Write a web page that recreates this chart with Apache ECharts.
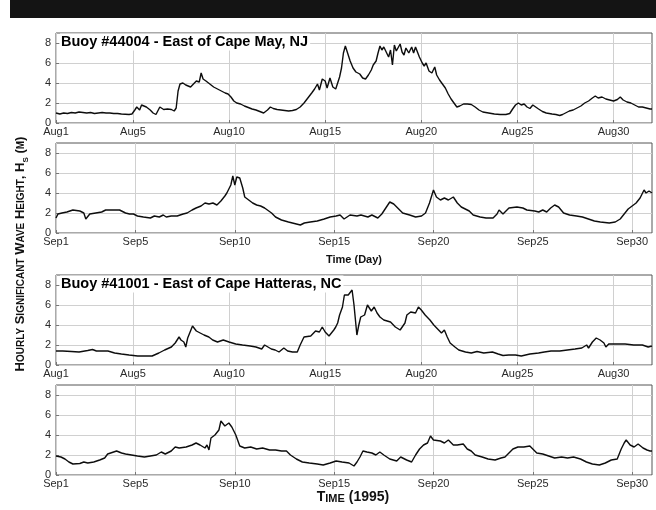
<!DOCTYPE html>
<html>
<head>
<meta charset="utf-8">
<title>Hourly significant wave height, 1995</title>
<script src="https://cdn.jsdelivr.net/npm/echarts@6/dist/echarts.min.js"></script>
<style>
  html, body { margin: 0; padding: 0; background: #fff; }
  #chart { width: 656px; height: 510px; }
</style>
</head>
<body>
<div id="chart"></div>
<script>
// Tick positions (day of month) and wave-height ticks (m)
const dayTicks = [1, 5, 10, 15, 20, 25, 30];
const hsTicks = [0, 2, 4, 6, 8];

// Significant wave height Hs (m) vs. day of month (fractional days)
// Buoy #44004 - East of Cape May, NJ - August 1995
const capeMayAug = [
  [1.0,1.0],[1.2,0.9],[1.4,1.0],[1.6,0.95],[1.8,1.05],[2.0,1.0],[2.2,1.1],[2.4,1.05],[2.6,1.0],[2.8,1.05],
  [3.0,0.95],[3.2,1.0],[3.4,1.05],[3.6,1.0],[3.8,1.0],[4.0,0.95],[4.2,0.95],[4.4,0.9],[4.6,0.88],[4.8,0.85],
  [4.95,0.9],[5.1,1.3],[5.2,1.6],[5.3,1.5],[5.35,1.3],[5.45,1.8],[5.55,1.9],[5.7,1.6],[5.9,1.3],[6.05,1.0],
  [6.2,0.85],[6.3,0.9],[6.4,1.6],[6.5,1.5],[6.6,1.35],[6.8,1.4],[7.0,1.35],[7.15,1.2],[7.25,1.5],[7.35,3.2],
  [7.45,3.9],[7.6,4.0],[7.75,3.8],[7.85,4.0],[8.0,3.6],[8.15,3.9],[8.3,4.2],[8.45,4.1],[8.55,5.0],[8.65,4.4],
  [8.8,4.2],[9.0,3.9],[9.2,3.6],[9.4,3.4],[9.6,3.2],[9.8,3.0],[9.95,2.9],[10.1,2.6],[10.25,2.2],[10.4,2.0],
  [10.6,1.9],[10.8,1.7],[11.0,1.55],[11.2,1.4],[11.4,1.3],[11.6,1.15],[11.8,1.0],[12.0,1.3],[12.15,1.6],[12.3,1.45],
  [12.5,1.35],[12.7,1.3],[12.9,1.25],[13.1,1.2],[13.3,1.25],[13.5,1.35],[13.7,1.6],[13.9,2.0],[14.1,2.5],[14.3,3.0],
  [14.45,3.4],[14.6,3.9],[14.7,3.3],[14.85,4.4],[15.0,4.2],[15.1,3.5],[15.25,4.5],[15.4,3.6],[15.55,3.4],[15.65,4.0],
  [15.75,4.6],[15.85,5.5],[15.95,7.0],[16.05,7.7],[16.15,7.1],[16.3,6.2],[16.45,5.5],[16.6,5.1],[16.8,4.9],[16.95,4.5],
  [17.1,4.4],[17.25,4.8],[17.4,5.3],[17.5,5.8],[17.65,6.2],[17.75,7.0],[17.85,7.7],[17.95,7.3],[18.05,7.6],[18.15,7.2],
  [18.3,6.6],[18.4,7.3],[18.5,5.8],[18.6,7.8],[18.7,7.2],[18.8,7.0],[18.9,7.9],[19.0,7.1],[19.1,6.8],[19.2,7.5],
  [19.35,7.0],[19.5,7.6],[19.6,7.0],[19.7,7.6],[19.8,7.1],[19.9,6.6],[20.05,6.0],[20.15,5.7],[20.25,6.0],[20.4,5.2],
  [20.55,5.0],[20.7,5.6],[20.8,4.8],[20.95,4.3],[21.1,3.9],[21.25,3.5],[21.4,2.9],[21.55,2.4],[21.7,2.0],[21.85,1.6],
  [22.0,1.7],[22.2,1.9],[22.4,1.9],[22.6,1.85],[22.8,1.6],[23.0,1.3],[23.2,1.1],[23.5,1.0],[23.8,0.9],[24.1,0.85],
  [24.4,0.85],[24.6,0.95],[24.75,1.4],[24.9,1.8],[25.05,2.0],[25.2,1.8],[25.35,1.9],[25.5,1.6],[25.65,1.45],[25.8,1.8],
  [25.95,1.6],[26.1,1.4],[26.3,1.15],[26.5,1.0],[26.8,0.9],[27.0,0.85],[27.2,0.75],[27.35,0.85],[27.5,1.0],[27.7,1.2],
  [27.9,1.3],[28.1,1.5],[28.3,1.7],[28.5,2.0],[28.7,2.2],[28.9,2.5],[29.05,2.7],[29.2,2.5],[29.4,2.6],[29.6,2.4],
  [29.8,2.3],[30.0,2.2],[30.2,2.35],[30.35,2.6],[30.5,2.3],[30.7,2.1],[30.9,2.0],[31.1,1.8],[31.3,1.6],[31.5,1.6],
  [31.7,1.5],[31.9,1.4],[32.0,1.4]
];

// Buoy #44004 - September 1995
const capeMaySep = [
  [1.0,1.5],[1.1,1.9],[1.3,2.0],[1.55,2.1],[1.85,2.3],[2.2,2.2],[2.4,2.0],[2.5,1.4],[2.7,1.9],[3.0,2.0],
  [3.3,2.1],[3.5,2.3],[3.8,2.3],[4.2,2.3],[4.3,2.4],[4.5,2.0],[4.7,1.9],[4.9,1.9],[5.1,1.7],[5.4,1.6],
  [5.75,1.5],[5.95,1.7],[6.2,1.6],[6.4,1.8],[6.55,1.6],[6.8,1.7],[7.1,1.7],[7.4,1.9],[7.6,2.0],[7.85,2.3],
  [8.05,2.5],[8.3,2.7],[8.5,3.0],[8.6,3.2],[8.7,2.9],[8.8,3.1],[8.9,3.0],[9.1,2.8],[9.3,3.2],[9.5,3.7],
  [9.6,4.0],[9.8,4.8],[9.9,5.7],[10.0,4.8],[10.1,5.6],[10.25,5.5],[10.4,4.5],[10.5,3.6],[10.7,3.3],[10.9,3.0],
  [11.1,2.8],[11.3,2.7],[11.5,2.5],[11.6,2.6],[11.85,2.0],[12.05,1.6],[12.35,1.3],[12.7,1.1],[12.9,1.0],[13.1,0.9],
  [13.3,0.8],[13.5,1.0],[13.8,1.1],[14.15,1.2],[14.5,1.4],[14.8,1.6],[15.1,1.7],[15.3,1.8],[15.5,1.4],[15.6,1.6],
  [15.8,1.8],[16.15,1.7],[16.35,1.8],[16.7,1.6],[16.9,1.8],[17.2,1.5],[17.4,1.9],[17.6,2.5],[17.8,3.1],[18.0,2.9],
  [18.25,2.4],[18.45,2.0],[18.8,1.8],[19.1,1.6],[19.4,1.7],[19.6,2.0],[19.8,3.0],[20.0,4.3],[20.15,3.6],[20.35,3.3],
  [20.55,3.5],[20.75,3.3],[21.0,3.6],[21.2,3.0],[21.4,2.6],[21.6,2.4],[21.8,2.2],[22.0,1.8],[22.35,1.6],[22.65,1.5],
  [23.0,1.5],[23.2,1.9],[23.3,2.3],[23.5,1.9],[23.65,2.2],[23.8,2.5],[24.2,2.6],[24.5,2.5],[24.7,2.3],[25.1,2.2],
  [25.3,2.1],[25.5,2.3],[25.7,2.1],[25.9,2.5],[26.1,2.8],[26.3,2.6],[26.55,2.0],[26.85,1.8],[27.2,1.7],[27.5,1.6],
  [27.8,1.4],[28.1,1.2],[28.4,1.1],[28.85,1.0],[29.15,1.1],[29.4,1.4],[29.6,1.9],[29.8,2.4],[30.0,2.7],[30.2,3.0],
  [30.4,3.5],[30.5,3.9],[30.6,4.3],[30.7,4.0],[30.85,4.2],[31.0,4.0]
];

// Buoy #41001 - East of Cape Hatteras, NC - August 1995
const hatterasAug = [
  [1.0,1.4],[1.35,1.4],[1.8,1.35],[2.2,1.3],[2.65,1.45],[2.9,1.55],[3.1,1.4],[3.4,1.4],[3.7,1.4],[4.05,1.2],
  [4.4,1.1],[4.8,1.0],[5.25,0.9],[5.7,0.9],[6.0,0.9],[6.35,1.2],[6.65,1.5],[7.0,1.8],[7.2,2.2],[7.4,2.8],
  [7.5,2.5],[7.65,2.3],[7.75,1.8],[7.85,2.7],[7.95,2.8],[8.1,3.9],[8.3,3.4],[8.5,3.2],[8.7,3.0],[8.95,2.8],
  [9.15,2.5],[9.4,2.3],[9.7,2.5],[9.8,2.6],[10.0,2.3],[10.35,2.1],[10.7,2.0],[11.1,1.9],[11.4,1.8],[11.7,1.6],
  [11.85,2.0],[11.95,2.2],[12.2,1.6],[12.4,1.5],[12.6,1.3],[12.85,1.7],[13.05,1.4],[13.3,1.3],[13.55,1.3],[13.7,2.0],
  [13.9,2.8],[14.0,3.0],[14.25,2.9],[14.5,3.4],[14.7,3.3],[14.85,3.8],[15.0,3.3],[15.2,2.9],[15.45,3.5],[15.55,3.8],
  [15.65,4.2],[15.75,5.0],[15.9,5.8],[16.0,7.0],[16.2,7.0],[16.3,6.8],[16.4,7.5],[16.5,6.0],[16.65,3.0],[16.75,4.0],
  [16.85,4.8],[17.05,5.0],[17.2,6.0],[17.4,5.4],[17.55,5.8],[17.7,5.2],[17.85,4.8],[18.05,4.5],[18.4,4.3],[18.65,3.8],
  [18.9,3.5],[19.15,4.2],[19.25,5.0],[19.45,5.3],[19.7,5.2],[19.85,5.8],[20.0,5.5],[20.2,5.0],[20.45,4.5],[20.65,4.0],
  [20.9,3.5],[21.05,3.2],[21.2,3.5],[21.35,2.8],[21.5,2.2],[21.75,1.8],[21.95,1.5],[22.3,1.3],[22.6,1.2],[22.9,1.35],
  [23.25,1.2],[23.7,1.3],[24.0,1.1],[24.25,0.95],[24.55,1.0],[24.9,1.0],[25.2,0.9],[25.65,1.1],[26.1,1.2],[26.4,1.3],
  [26.75,1.4],[27.2,1.4],[27.6,1.5],[28.0,1.6],[28.35,1.7],[28.6,2.0],[28.7,1.7],[28.9,2.3],[29.1,2.7],[29.3,2.5],
  [29.5,2.2],[29.6,1.8],[29.75,2.1],[30.2,2.1],[30.6,2.1],[31.05,2.0],[31.5,2.0],[31.8,1.8],[32.0,1.9]
];

// Buoy #41001 - September 1995
const hatterasSep = [
  [1.0,1.9],[1.25,1.8],[1.45,1.6],[1.65,1.3],[1.85,1.1],[2.2,1.15],[2.4,1.3],[2.6,1.2],[2.9,1.3],[3.2,1.5],
  [3.45,1.7],[3.6,2.1],[3.75,2.2],[3.85,2.0],[4.05,2.4],[4.3,2.2],[4.5,2.1],[4.8,2.0],[5.1,1.9],[5.45,1.8],
  [5.75,1.9],[6.05,2.0],[6.3,2.3],[6.5,2.1],[6.8,2.4],[7.0,2.8],[7.2,2.7],[7.55,2.8],[7.85,3.0],[8.05,3.2],
  [8.25,3.0],[8.5,2.7],[8.6,3.0],[8.7,2.5],[8.8,3.7],[9.0,4.0],[9.2,4.5],[9.3,5.4],[9.5,4.9],[9.7,5.2],
  [9.85,4.8],[9.95,5.0],[10.05,4.0],[10.25,2.9],[10.5,2.7],[10.8,2.8],[11.1,2.6],[11.4,2.7],[11.75,2.5],[12.05,2.5],
  [12.35,2.4],[12.6,2.4],[12.8,2.0],[13.1,1.6],[13.4,1.3],[13.75,1.2],[14.15,1.1],[14.45,1.0],[14.8,1.2],[15.1,1.4],
  [15.4,1.3],[15.75,1.2],[16.0,0.9],[16.15,1.3],[16.3,1.8],[16.45,2.4],[16.65,2.3],[16.9,2.2],[17.1,2.0],[17.3,2.3],
  [17.5,2.0],[17.8,1.6],[18.15,1.4],[18.35,1.8],[18.65,1.5],[18.9,1.3],[19.1,2.0],[19.3,2.6],[19.5,3.0],[19.7,3.2],
  [19.85,3.9],[20.0,3.5],[20.35,3.4],[20.55,3.2],[20.75,3.5],[21.0,3.0],[21.2,3.0],[21.5,3.1],[21.7,2.6],[21.9,2.4],
  [22.1,2.0],[22.45,1.8],[22.75,1.6],[23.1,1.5],[23.4,1.7],[23.6,1.8],[23.8,2.2],[24.0,2.6],[24.25,2.8],[24.55,2.8],
  [24.85,2.9],[25.2,2.2],[25.5,2.1],[25.8,1.9],[26.1,1.7],[26.45,1.8],[26.75,1.7],[27.05,1.8],[27.4,1.6],[27.7,1.3],
  [28.0,1.1],[28.35,1.0],[28.65,1.2],[28.95,1.5],[29.25,1.6],[29.45,2.6],[29.6,3.2],[29.7,3.5],[29.9,3.0],[30.1,2.8],
  [30.3,3.1],[30.55,2.7],[30.75,2.5],[30.9,2.4],[31.0,2.4]
];

const FONT = "'Liberation Sans', Arial, sans-serif";

const panels = [
  { top: 33,  data: capeMayAug,  month: 'Aug', lastDay: 32 },
  { top: 143, data: capeMaySep,  month: 'Sep', lastDay: 31 },
  { top: 275, data: hatterasAug, month: 'Aug', lastDay: 32 },
  { top: 385, data: hatterasSep, month: 'Sep', lastDay: 31 }
];

const chart = echarts.init(document.getElementById('chart'), null, { renderer: 'canvas' });

const option = {
  animation: false,
  backgroundColor: '#fff',
  grid: panels.map(p => ({
    left: 56, width: 596, top: p.top, height: 90,
    show: true, borderColor: '#555', borderWidth: 1, backgroundColor: 'transparent'
  })),
  xAxis: panels.map((p, i) => ({
    type: 'value', gridIndex: i, min: 1, max: p.lastDay,
    axisLine: { show: false },
    axisTick: { show: true, inside: true, length: 3, customValues: dayTicks, lineStyle: { color: '#777' } },
    axisLabel: {
      customValues: dayTicks, margin: 3,
      formatter: v => p.month + v,
      color: '#2a2a2a', fontSize: 11, fontFamily: FONT
    },
    splitLine: { show: true, lineStyle: { color: '#d0d0d0', width: 1 } }
  })),
  yAxis: panels.map((p, i) => ({
    type: 'value', gridIndex: i, min: 0, max: 9,
    axisLine: { show: false },
    axisTick: { show: true, inside: true, length: 3, customValues: hsTicks, lineStyle: { color: '#777' } },
    axisLabel: { customValues: hsTicks, margin: 5, color: '#2a2a2a', fontSize: 11, fontFamily: FONT },
    splitLine: { show: true, lineStyle: { color: '#d0d0d0', width: 1 } }
  })),
  series: panels.map((p, i) => ({
    type: 'line', xAxisIndex: i, yAxisIndex: i,
    data: p.data, showSymbol: false, symbol: 'none',
    lineStyle: { color: '#0d0d0d', width: 1.4 },
    z: 3
  })),
  graphic: [
    { type: 'rect', shape: { x: 10, y: 0, width: 646, height: 18 }, style: { fill: '#141414' }, z: 10 },
    {
      type: 'text', x: 60, y: 42, z: 10,
      style: {
        text: 'Buoy #44004 - East of Cape May, NJ',
        font: 'bold 14.5px ' + FONT, fill: '#000',
        verticalAlign: 'middle', align: 'left',
        backgroundColor: '#fff', padding: [1, 2, 1, 1]
      }
    },
    {
      type: 'text', x: 60, y: 284, z: 10,
      style: {
        text: 'Buoy #41001 - East of Cape Hatteras, NC',
        font: 'bold 14.5px ' + FONT, fill: '#000',
        verticalAlign: 'middle', align: 'left',
        backgroundColor: '#fff', padding: [1, 2, 1, 1]
      }
    },
    {
      type: 'text', x: 354, y: 260, z: 10,
      style: {
        text: 'Time (Day)', font: 'bold 11px ' + FONT, fill: '#111',
        align: 'center', verticalAlign: 'middle'
      }
    },
    {
      type: 'text', x: 353, y: 497, z: 10,
      style: {
        text: '{b|T}{s|IME} {b|(1995)}',
        font: 'bold 14px ' + FONT, fill: '#111',
        align: 'center', verticalAlign: 'middle',
        rich: {
          b: { font: 'bold 14px ' + FONT, fill: '#111', verticalAlign: 'bottom' },
          s: { font: 'bold 11px ' + FONT, fill: '#111', verticalAlign: 'bottom' }
        }
      }
    },
    {
      type: 'text', x: 20, y: 254, rotation: Math.PI / 2, z: 10,
      style: {
        text: '{b|H}{s|OURLY} {b|S}{s|IGNIFICANT} {b|W}{s|AVE} {b|H}{s|EIGHT}{b|, H}{sub|S}{b| (}{s|M}{b|)}',
        font: 'bold 13px ' + FONT, fill: '#111',
        align: 'center', verticalAlign: 'middle',
        rich: {
          b: { font: 'bold 13px ' + FONT, fill: '#111', verticalAlign: 'bottom' },
          s: { font: 'bold 10px ' + FONT, fill: '#111', verticalAlign: 'bottom' },
          sub: { font: 'bold 8px ' + FONT, fill: '#111', verticalAlign: 'bottom', padding: [0, 0, -3, 0] }
        }
      }
    }
  ]
};

chart.setOption(option);
</script>
</body>
</html>
